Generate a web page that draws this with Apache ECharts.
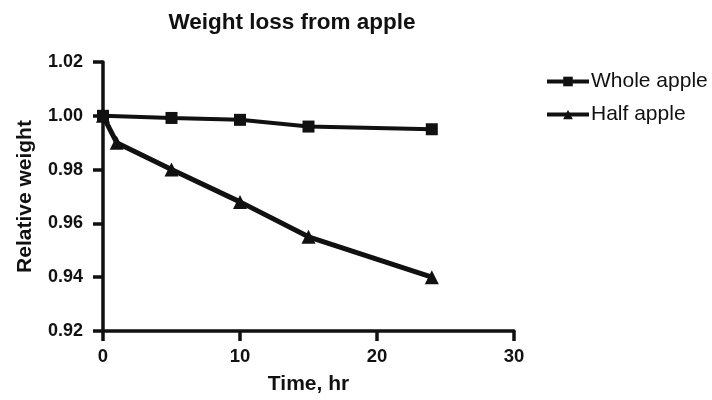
<!DOCTYPE html>
<html><head><meta charset="utf-8">
<script src="https://cdn.jsdelivr.net/npm/echarts@6/dist/echarts.min.js"></script>
<style>html,body{margin:0;padding:0;background:#fff}#c{width:712px;height:400px}</style>
</head><body><div id="c"></div>
<script>
const wholeTime = [0, 5, 10, 15, 24];
const wholeWeight = [1.000, 0.9992, 0.9985, 0.996, 0.995];
const halfTime = [0, 1, 5, 10, 15, 24];
const halfWeight = [1.000, 0.990, 0.980, 0.968, 0.955, 0.940];
const seriesNames = ['Whole apple', 'Half apple'];

const font = '"Liberation Sans", Arial, sans-serif';
const chart = echarts.init(document.getElementById('c'));
chart.setOption({
  animation: false,
  title: { text: 'Weight loss from apple', left: 287, textAlign: 'center', top: 6,
    textStyle: { fontFamily: font, fontWeight: 'bold', fontSize: 22.5, color: '#111' } },
  legend: { left: 540, top: 66, orient: 'vertical', itemGap: 12, itemWidth: 42, itemHeight: 12,
    lineStyle: { width: 4, color: '#111' },
    textStyle: { fontFamily: font, fontSize: 21, color: '#111', padding: [0, 0, 0, -3] },
    data: seriesNames },
  grid: { left: 103, right: 198, top: 62, bottom: 61 },
  xAxis: { type: 'value', min: 0, max: 30, interval: 10,
    name: 'Time, hr', nameLocation: 'middle', nameGap: 43,
    nameTextStyle: { fontFamily: font, fontWeight: 'bold', fontSize: 21, color: '#111' },
    axisLine: { lineStyle: { color: '#111', width: 3.5 } },
    axisTick: { length: 10, lineStyle: { width: 3.5, color: '#111' } },
    axisLabel: { fontFamily: font, fontWeight: 'bold', fontSize: 18.5, color: '#111', margin: 16 },
    splitLine: { show: false } },
  yAxis: { type: 'value', min: 0.92, max: 1.02, interval: 0.02,
    name: 'Relative weight', nameLocation: 'middle', nameGap: 67,
    nameTextStyle: { fontFamily: font, fontWeight: 'bold', fontSize: 21, color: '#111' },
    axisLine: { show: true, lineStyle: { color: '#111', width: 3.5 } },
    axisTick: { show: true, length: 10, lineStyle: { width: 3.5, color: '#111' } },
    axisLabel: { fontFamily: font, fontWeight: 'bold', fontSize: 18, color: '#111', margin: 20,
      formatter: v => v.toFixed(2) },
    splitLine: { show: false } },
  series: [
    { name: seriesNames[0], type: 'line', symbol: 'rect', symbolSize: 12,
      data: wholeTime.map((t, i) => [t, wholeWeight[i]]),
      lineStyle: { color: '#111', width: 4 }, itemStyle: { color: '#111' } },
    { name: seriesNames[1], type: 'line', symbol: 'triangle', symbolSize: 14,
      data: halfTime.map((t, i) => [t, halfWeight[i]]),
      lineStyle: { color: '#111', width: 5 }, itemStyle: { color: '#111' } }
  ]
});
</script></body></html>
